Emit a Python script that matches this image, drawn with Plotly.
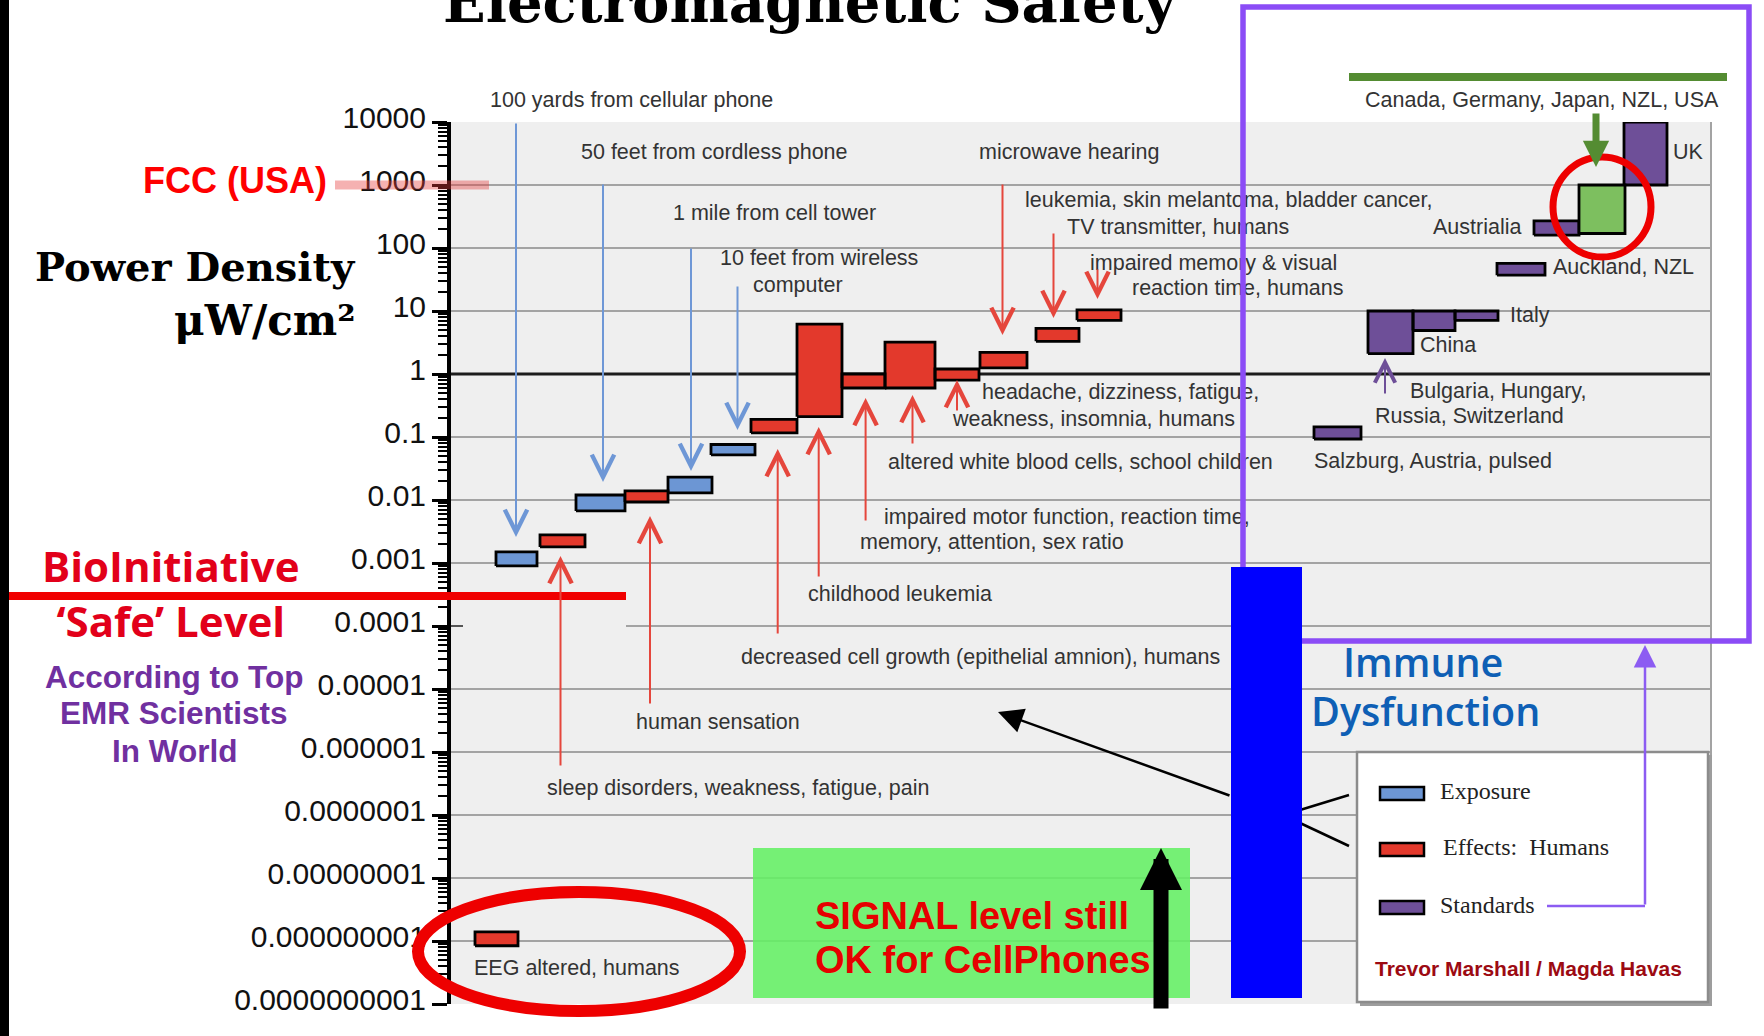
import numpy as np
import plotly.graph_objects as go

# ---------------- data: power density ranges in µW/cm² ----------------
# horizontal extent of every bar is given in chart units along the hidden x axis
exposure_names = ["100 yards from cellular phone", "50 feet from cordless phone",
                  "1 mile from cell tower", "10 feet from wireless computer"]
exposure_start = [45, 125, 217, 260]
exposure_end = [86, 174, 261, 304]
exposure_low = [0.0009, 0.0067, 0.013, 0.052]
exposure_high = [0.0015, 0.012, 0.023, 0.076]

effect_names = ["EEG altered, humans", "sleep disorders, weakness, fatigue, pain",
                "human sensation", "decreased cell growth (epithelial amnion), humans",
                "childhood leukemia",
                "impaired motor function, reaction time, memory, attention, sex ratio",
                "altered white blood cells, school children",
                "headache, dizziness, fatigue, weakness, insomnia, humans",
                "microwave hearing",
                "leukemia, skin melantoma, bladder cancer, TV transmitter, humans",
                "impaired memory & visual reaction time, humans"]
effect_start = [24, 89, 174, 300, 346, 391, 434, 484, 529, 585, 626]
effect_end = [67, 134, 217, 346, 391, 434, 484, 528, 576, 628, 670]
effect_low = [8.4e-10, 0.0018, 0.0093, 0.116, 0.21, 0.6, 0.6, 0.8, 1.25, 3.3, 7.1]
effect_high = [1.4e-9, 0.0028, 0.014, 0.19, 6.2, 1.0, 3.2, 1.2, 2.2, 5.3, 10.4]

standard_names = ["Salzburg, Austria, pulsed", "Bulgaria, Hungary, Russia, Switzerland",
                  "China", "Italy", "Auckland, NZL", "Austrialia", "UK"]
standard_start = [863, 917, 962, 1004, 1046, 1083, 1173]
standard_end = [910, 962, 1004, 1047, 1094, 1128, 1216]
standard_low = [0.093, 2.1, 4.9, 7.1, 37, 160, 1000]
standard_high = [0.145, 10, 10, 10, 57, 270, 10000]

common_names = ["Canada, Germany, Japan, NZL, USA"]
common_start = [1128]
common_end = [1174]
common_low = [170]
common_high = [1000]

reference_level = 1
fcc_limit = 1000
bioinitiative_limit = 0.0003

tick_values = [1e-10, 1e-9, 1e-8, 1e-7, 1e-6, 1e-5, 1e-4, 1e-3, 1e-2, 1e-1, 1, 10, 100, 1000, 10000]
tick_labels = ["0.0000000001", "0.000000001", "0.00000001", "0.0000001", "0.000001",
               "0.00001", "0.0001", "0.001", "0.01", "0.1", "1", "10", "100", "1000", "10000"]

# ---------------- page geometry ----------------
W, H = 1764, 1036
ML, MR, MT, MB = 451, 53, 122, 32
PW, PH = W - ML - MR, H - MT - MB
LOG_MIN, LOG_MAX = -10, 4
PLOT_BG = "#efefef"


def xp(x):
    return (x - ML) / PW


def yp(y):
    return (H - MB - y) / PH


def xd(x):
    return x - ML


def yd(y):
    return 10 ** (LOG_MAX - (y - MT) * (LOG_MAX - LOG_MIN) / PH)


def vpaper(v):
    return (np.log10(v) - LOG_MIN) / (LOG_MAX - LOG_MIN)


BLUE = "#6c96d4"
RED = "#e3392c"
RED_ARROW = "#e5463c"
PURPLE = "#6e4f98"
GREEN = "#7dbf5f"
TEXT = "#333333"
SANS = "Liberation Sans, Arial, sans-serif"
SERIF = "Liberation Serif, Times New Roman, serif"
SLAB = "DejaVu Serif, serif"
CAL = "Open Sans, Lato, sans-serif"

fig = go.Figure()

# dark reference line at 1 µW/cm², drawn under the bars
fig.add_trace(go.Scatter(x=[0, PW], y=[reference_level, reference_level], mode="lines",
                         line=dict(color="#1c1c1c", width=3), hoverinfo="skip",
                         showlegend=False))
# break in the 0.0001 grid line
fig.add_trace(go.Scatter(x=[xd(463), xd(626)], y=[1e-4, 1e-4], mode="lines",
                         line=dict(color=PLOT_BG, width=4), hoverinfo="skip",
                         showlegend=False))


def box_trace(start, end, low, high, fill):
    xs, ys = [], []
    for a, b, lo, hi in zip(start, end, low, high):
        xs += [a, b, b, a, a, None]
        ys += [lo, lo, hi, hi, lo, None]
    return go.Scatter(x=xs, y=ys, mode="lines", fill="toself", fillcolor=fill,
                      line=dict(color="black", width=2.8), hoverinfo="skip",
                      showlegend=False)


fig.add_trace(box_trace(exposure_start, exposure_end, exposure_low, exposure_high, BLUE))
fig.add_trace(box_trace(effect_start, effect_end, effect_low, effect_high, RED))
fig.add_trace(box_trace(standard_start, standard_end, standard_low, standard_high, PURPLE))
fig.add_trace(box_trace(common_start, common_end, common_low, common_high, GREEN))

# ---------------- labels inside the chart (pixel anchors) ----------------
chart_labels = [
    ("50 feet from cordless phone", 581, 152),
    ("1 mile from cell tower", 673, 213),
    ("10 feet from wireless", 720, 258),
    ("computer", 753, 285),
    ("microwave hearing", 979, 152),
    ("leukemia, skin melantoma, bladder cancer,", 1025, 200),
    ("TV transmitter, humans", 1067, 227),
    ("impaired memory & visual", 1090, 263),
    ("reaction time, humans", 1132, 288),
    ("headache, dizziness, fatigue,", 982, 392),
    ("weakness, insomnia, humans", 953, 419),
    ("altered white blood cells, school children", 888, 462),
    ("impaired motor function, reaction time,", 884, 517),
    ("memory, attention, sex ratio", 860, 542),
    ("childhood leukemia", 808, 594),
    ("decreased cell growth (epithelial amnion), humans", 741, 657),
    ("human sensation", 636, 722),
    ("sleep disorders, weakness, fatigue, pain", 547, 788),
    ("EEG altered, humans", 474, 968),
    ("UK", 1673, 152),
    ("Austrialia", 1433, 227),
    ("Auckland, NZL", 1553, 267),
    ("Italy", 1510, 315),
    ("China", 1420, 345),
    ("Bulgaria, Hungary,", 1410, 391),
    ("Russia, Switzerland", 1375, 416),
    ("Salzburg, Austria, pulsed", 1314, 461),
]
fig.add_trace(go.Scatter(
    x=[xd(x) for _, x, _ in chart_labels],
    y=[yd(y + 2) for _, _, y in chart_labels],
    text=[t for t, _, _ in chart_labels],
    mode="text", textposition="middle right",
    textfont=dict(family=SANS, size=21.5, color=TEXT),
    cliponaxis=False, hoverinfo="skip", showlegend=False))

# ---------------- shapes ----------------
shapes = []


def rect(x0, y0, x1, y1, fill="rgba(0,0,0,0)", line="rgba(0,0,0,0)", lw=0, layer="above"):
    shapes.append(dict(type="rect", xref="paper", yref="paper",
                       x0=xp(x0), x1=xp(x1), y0=yp(y1), y1=yp(y0),
                       fillcolor=fill, line=dict(color=line, width=lw), layer=layer))


def seg(x0, y0, x1, y1, color, lw, layer="above"):
    shapes.append(dict(type="line", xref="paper", yref="paper",
                       x0=xp(x0), y0=yp(y0), x1=xp(x1), y1=yp(y1),
                       line=dict(color=color, width=lw), layer=layer))


def oval(x0, y0, x1, y1, color, lw):
    shapes.append(dict(type="circle", xref="paper", yref="paper",
                       x0=xp(x0), x1=xp(x1), y0=yp(y1), y1=yp(y0),
                       line=dict(color=color, width=lw), layer="above"))


# right border of the chart
seg(1711, MT, 1711, H - MB, "#a3a3a3", 2)
# short inner tick at 0.0001
shapes.append(dict(type="line", xref="paper", yref="paper", x0=0, x1=xp(463),
                   y0=vpaper(1e-4), y1=vpaper(1e-4),
                   line=dict(color="#555555", width=2), layer="above"))
# green "signal" panel
rect(753, 848, 1190, 998, fill="rgba(100,240,100,0.88)")
# standards frame
rect(1243, 7, 1749, 641, line="#8b4cf6", lw=5.5)
# connectors on each side of the immune bar
seg(1300, 810, 1349, 795, "black", 2.5)
seg(1300, 823, 1349, 846, "black", 2.5)
# immune dysfunction bar
rect(1231, 567, 1302, 998, fill="#0000ff")
# legend panel
rect(1360, 755, 1712, 1006, fill="#9d9d9d")
rect(1357, 752, 1708, 1002, fill="white", line="#8c8c8c", lw=2.5)
for top, col in [(787, BLUE), (843, RED), (901, PURPLE)]:
    rect(1380, top, 1424, top + 13, fill=col, line="black", lw=2.5)
seg(1547, 906, 1645, 906, "#8c5cf2", 2.5)
# highlight ovals
oval(418, 892, 740, 1011, "#ee0000", 12)
oval(1553, 157, 1651, 257, "#ee0000", 7)
# green bar over the common standard label
rect(1349, 73, 1727, 81, fill="#548c32")
# BioInitiative level and FCC level
shapes.append(dict(type="line", xref="paper", yref="paper", x0=xp(9), x1=xp(626),
                   y0=vpaper(bioinitiative_limit), y1=vpaper(bioinitiative_limit),
                   line=dict(color="#f00000", width=8), layer="above"))
shapes.append(dict(type="line", xref="paper", yref="paper", x0=xp(335), x1=xp(489),
                   y0=vpaper(fcc_limit), y1=vpaper(fcc_limit),
                   line=dict(color="rgba(230,60,60,0.4)", width=9), layer="above"))
# black strip on the left edge
rect(0, 0, 9, H, fill="black")

# ---------------- annotations ----------------
ann = []


def label(text, x, y, size, color, family, anchor="left", weight="normal", yanchor="middle"):
    ann.append(dict(x=xp(x), y=yp(y), xref="paper", yref="paper", text=text,
                    showarrow=False, xanchor=anchor, yanchor=yanchor,
                    font=dict(size=size, color=color, family=family, weight=weight)))


def arrow(x_tip, y_tip, x_tail, y_tail, color, width, head, size):
    ann.append(dict(x=xp(x_tip), y=yp(y_tip), xref="paper", yref="paper",
                    ax=x_tail - x_tip, ay=y_tail - y_tip, axref="pixel", ayref="pixel",
                    text="", showarrow=True, arrowhead=head, arrowsize=size,
                    arrowwidth=width, arrowcolor=color, standoff=0))


label("Electromagnetic Safety", 810, 37, 56, "black", SLAB, anchor="center",
      weight="bold", yanchor="bottom")
label("100 yards from cellular phone", 488, 100, 21.5, TEXT, SANS)
label(common_names[0], 1363, 100, 21.5, TEXT, SANS)
label("FCC (USA)", 329, 180, 36, "#ff0000", SANS, anchor="right", weight="bold")
label("Power Density", 358, 266, 40, "black", SLAB, anchor="right", weight="bold")
label("μW/cm²", 358, 320, 42, "black", SLAB, anchor="right", weight="bold")
ann.append(dict(x=xp(171), y=yp(593), xref="paper", yref="paper",
                text="BioInitiative<br>‘Safe’ Level", showarrow=False,
                xanchor="center", yanchor="middle", align="center",
                font=dict(size=42, color="#e2001a", family=CAL, weight="bold")))
label("According to Top", 174, 677, 31.5, "#7030a0", SANS, anchor="center", weight="bold")
label("EMR Scientists", 174, 713, 31.5, "#7030a0", SANS, anchor="center", weight="bold")
label("In World", 174, 751, 31.5, "#7030a0", SANS, anchor="center", weight="bold")
label("Immune", 1423, 662, 39.5, "#0e5fb5", CAL, anchor="center", weight=600)
label("Dysfunction", 1425, 711, 39.5, "#0e5fb5", CAL, anchor="center", weight=600)
label("Exposure", 1438, 791, 24, "#222222", SERIF)
label("Effects:\u00a0 Humans", 1441, 847, 24, "#222222", SERIF)
label("Standards", 1438, 905, 24, "#222222", SERIF)
label("Trevor Marshall / Magda Havas", 1373, 968, 21, "#9c0a12", SANS, weight="bold")
label("SIGNAL level still", 813, 916, 38, "#e60000", SANS, weight="bold")
label("OK for CellPhones", 813, 960, 38, "#e60000", SANS, weight="bold")

# exposure pointers (x, tail y, tip y)
for x, tail, tip in [(516, 122, 537), (603, 183, 482), (691, 247, 471), (737.5, 285, 430)]:
    arrow(x, tip, x, tail, "#6e97d6", 2, 5, 2.2)
# effect pointers
for x, tail, tip in [(1002.5, 183, 335), (1053.5, 232, 318), (1097.5, 268, 299),
                     (560.5, 767, 556), (650, 705, 516), (777.7, 635, 449),
                     (818.7, 578, 427), (865.6, 522, 398), (912.5, 445, 395),
                     (957, 412, 380)]:
    arrow(x, tip, x, tail, RED_ARROW, 2, 5, 2.2)
arrow(1385, 358, 1385, 395, PURPLE, 2, 5, 2.0)
arrow(1596, 167, 1596, 112, "#548c32", 7, 2, 0.75)
arrow(1161, 848, 1161, 1010, "black", 15, 2, 0.56)
arrow(998, 712, 1231, 796, "black", 2.5, 2, 2.0)
arrow(1645, 645, 1645, 906, "#8c5cf2", 2.5, 2, 1.8)

fig.update_layout(
    width=W, height=H,
    margin=dict(l=ML, r=MR, t=MT, b=MB, pad=0),
    paper_bgcolor="white", plot_bgcolor=PLOT_BG,
    showlegend=False, shapes=shapes, annotations=ann,
)
fig.update_xaxes(range=[0, PW], visible=False, showgrid=False, zeroline=False)
fig.update_yaxes(
    type="log", range=[LOG_MIN, LOG_MAX],
    tickmode="array", tickvals=tick_values, ticktext=tick_labels,
    showgrid=True, gridcolor="#a3a3a3", gridwidth=2,
    ticks="outside", ticklen=15, tickwidth=2.5, tickcolor="black",
    showline=True, linecolor="black", linewidth=4, zeroline=False,
    tickfont=dict(family=SANS, size=30, color="#111111"),
    ticklabelstandoff=0, ticklabelshift=-5,
    minor=dict(ticks="outside", ticklen=9, tickwidth=2, tickcolor="black",
               dtick="D1", showgrid=False),
)

fig.write_html("out.html")
